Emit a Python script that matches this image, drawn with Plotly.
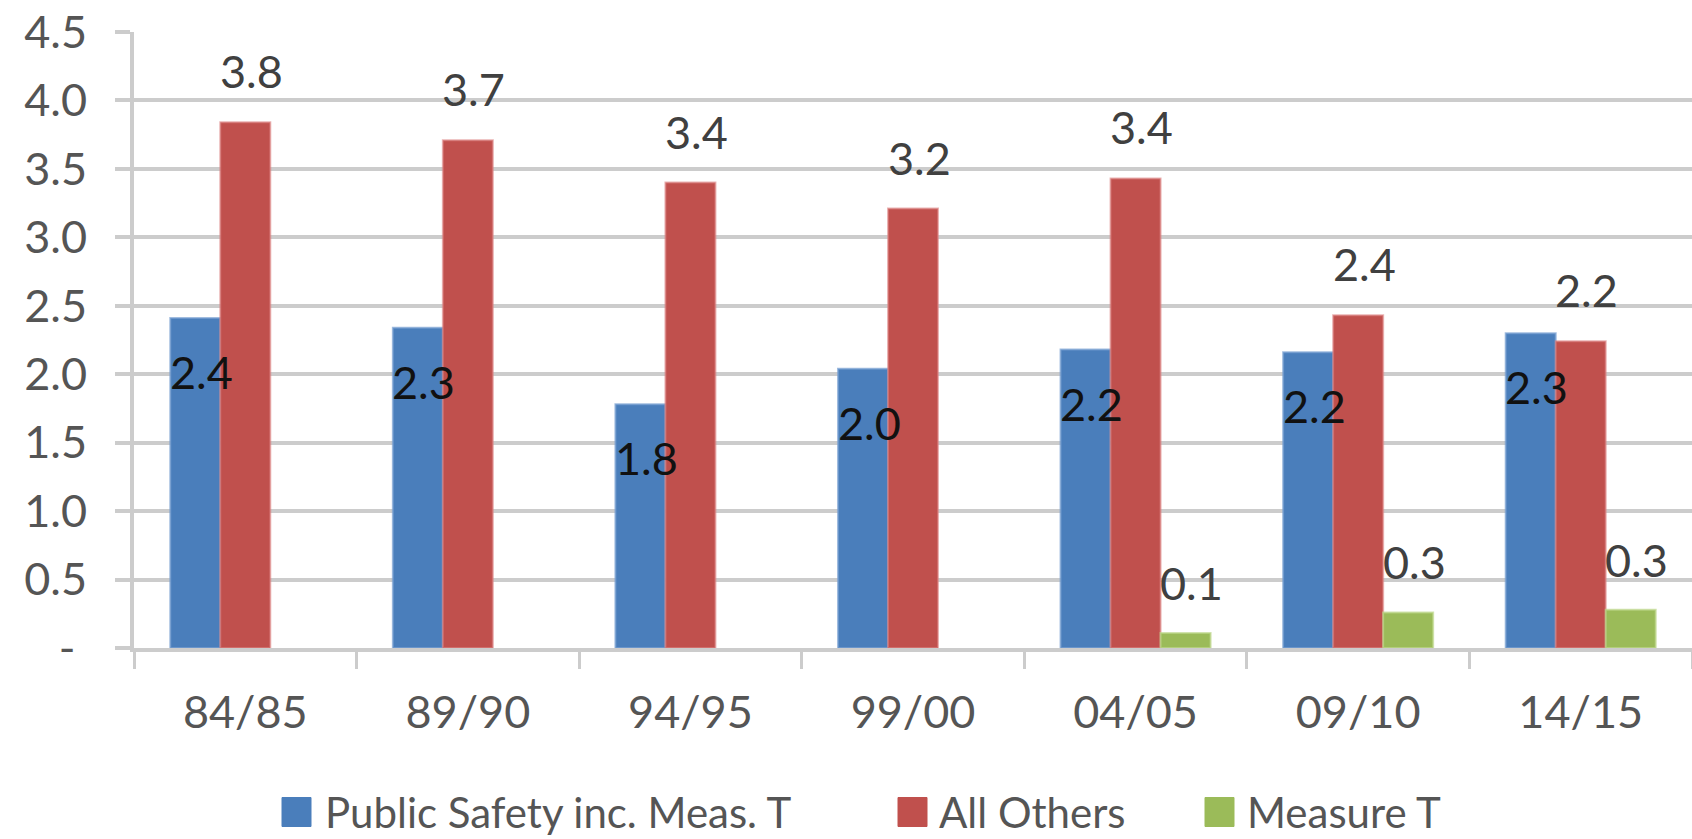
import plotly.graph_objects as go

# ---------------- data ----------------
categories = ["84/85", "89/90", "94/95", "99/00", "04/05", "09/10", "14/15"]
public_safety = [2.41, 2.34, 1.78, 2.04, 2.18, 2.16, 2.30]
all_others = [3.84, 3.71, 3.40, 3.21, 3.43, 2.43, 2.24]
measure_t = [None, None, None, None, 0.11, 0.26, 0.28]

series_names = ["Public Safety inc. Meas. T", "All Others", "Measure T"]
y_tick_values = [0, 0.5, 1.0, 1.5, 2.0, 2.5, 3.0, 3.5, 4.0, 4.5]
y_tick_labels = ["-\u00a0", "0.5", "1.0", "1.5", "2.0", "2.5",
                 "3.0", "3.5", "4.0", "4.5"]

# ---------------- style ----------------
colors = ["#4A7EBB", "#C0504D", "#9BBB59"]
edge_colors = ["rgba(120,160,210,0.7)", "rgba(220,130,130,0.6)", "rgba(190,215,140,0.7)"]
label_colors = ["#111111", "#404040", "#404040"]
label_yshift = [-54, 51, 50]
label_anchor_shift = 6
FONT = "Lato"
W, H = 1692, 839
M_L, M_R, M_T, M_B = 134, 0, 32, 191
BARGAP = 0.326
GRID = "#cccccc"
TICK_TEXT = "#555555"

series_values = [public_safety, all_others, measure_t]

fig = go.Figure()
for name, vals, col, ecol in zip(series_names, series_values, colors, edge_colors):
    fig.add_trace(go.Bar(
        x=categories, y=vals, name=name,
        marker=dict(color=col, line=dict(color=ecol, width=2)),
        showlegend=False,
    ))

# data labels (annotations placed in data coordinates)
bar_w = (1 - BARGAP) / len(series_names)
annotations = []
for k, vals in enumerate(series_values):
    for i, v in enumerate(vals):
        if v is None:
            continue
        annotations.append(dict(
            x=i + (k - 1) * bar_w, y=v, xref="x", yref="y",
            text=f"{v:.1f}", showarrow=False,
            xshift=label_anchor_shift, yshift=label_yshift[k],
            xanchor="center", yanchor="middle",
            font=dict(family=FONT, size=45, color=label_colors[k]),
        ))

# custom legend (big square swatches like the original)
plot_w = W - M_L - M_R
plot_h = H - M_T - M_B


def px_x(px):
    return (px - M_L) / plot_w


def px_y(py):
    return (H - M_B - py) / plot_h


legend_marker_left = [282, 898, 1205]
legend_text_left = [323, 937, 1245]
legend_center_y = 812
swatch = 29
shapes = []
for name, col, ml, tl in zip(series_names, colors, legend_marker_left, legend_text_left):
    shapes.append(dict(
        type="rect", xref="paper", yref="paper",
        x0=px_x(ml), x1=px_x(ml + swatch),
        y0=px_y(legend_center_y + swatch / 2), y1=px_y(legend_center_y - swatch / 2),
        fillcolor=col, line=dict(color=col, width=1),
    ))
    annotations.append(dict(
        x=px_x(tl), y=px_y(legend_center_y), xref="paper", yref="paper",
        text=name, showarrow=False, xanchor="left", yanchor="middle",
        font=dict(family=FONT, size=42, color=TICK_TEXT),
    ))

fig.update_layout(
    width=W, height=H,
    margin=dict(l=M_L, r=M_R, t=M_T, b=M_B, pad=0),
    paper_bgcolor="white", plot_bgcolor="white",
    barmode="group", bargap=BARGAP, bargroupgap=0,
    font=dict(family=FONT, size=45, color=TICK_TEXT),
    annotations=annotations, shapes=shapes,
    showlegend=False,
)
fig.update_xaxes(
    type="category", range=[-0.5, 6.5],
    showline=True, linecolor=GRID, linewidth=4,
    ticks="outside", tickson="boundaries", ticklen=17, tickwidth=3, tickcolor=GRID,
    tickfont=dict(family=FONT, size=45, color=TICK_TEXT),
    ticklabelstandoff=22,
    showgrid=False,
)
fig.update_yaxes(
    range=[0, 4.5], tickvals=y_tick_values, ticktext=y_tick_labels,
    showline=True, linecolor=GRID, linewidth=4,
    ticks="outside", ticklen=15, tickwidth=4, tickcolor=GRID,
    showgrid=True, gridcolor=GRID, gridwidth=4,
    zeroline=False,
    tickfont=dict(family=FONT, size=45, color=TICK_TEXT),
    ticklabelstandoff=19,
)

fig.write_html("out.html", config={"displayModeBar": False},
               post_script="document.body.style.margin='0';")
